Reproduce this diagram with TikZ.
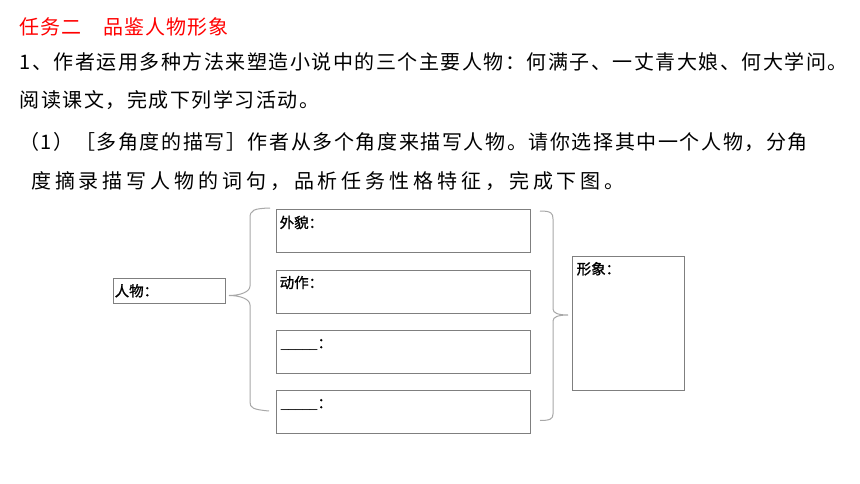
\documentclass[tikz,border=0pt]{standalone}
\usepackage{fontspec}
\setmainfont{Noto Sans CJK SC}
\newfontfamily\cjk{Noto Sans CJK SC}
\definecolor{boxgray}{HTML}{7F7F7F}
\definecolor{bracegray}{HTML}{A8A8A8}
\definecolor{titlered}{HTML}{FF0000}
\newcommand{\myblank}{\_\kern-0.9pt\_\kern-0.9pt\_\kern-0.9pt\_\kern-0.9pt\_}
\tikzset{
  bodytext/.style={anchor=base west, inner sep=0pt, font=\cjk\fontsize{20}{24}\selectfont},
  boxtext/.style={anchor=base west, inner sep=0pt, font=\cjk\fontsize{14.5}{16}\selectfont},
  box/.style={draw=boxgray, line width=0.8pt, rectangle, inner sep=0pt, anchor=north west},
  bracestyle/.style={draw=bracegray, line width=1pt}
}
\begin{document}
\begin{tikzpicture}[x=1pt,y=-1pt]
\fill[white] (0,0) rectangle (860,484);
\useasboundingbox (0,0) rectangle (860,484);
% texts
\node[bodytext, text=titlered] (title) at (19.5,34.3) {\addfontfeature{LetterSpace=5}任务二　品鉴人物形象};
\node[bodytext] (l1) at (19.5,69.3) {\addfontfeature{LetterSpace=7.5}1、作者运用多种方法来塑造小说中的三个主要人物：何满子、一丈青大娘、何大学问。};
\node[bodytext] (l2) at (19.5,107.3) {\addfontfeature{LetterSpace=7.5}阅读课文，完成下列学习活动。};
\node[bodytext] (l3) at (19,150) {\addfontfeature{LetterSpace=8}（1）［多角度的描写］作者从多个角度来描写人物。请你选择其中一个人物，分角};
\node[bodytext] (l4) at (31,188.8) {\addfontfeature{LetterSpace=19.5}度摘录描写人物的词句，品析任务性格特征，完成下图。};
% boxes
\node[box, minimum width=112pt, minimum height=25pt] (person) at (113,278) {};
\node[box, minimum width=254pt, minimum height=42.5pt] (b1) at (276,209) {};
\node[box, minimum width=254pt, minimum height=42.5pt] (b2) at (276,270) {};
\node[box, minimum width=254pt, minimum height=42.5pt] (b3) at (276,330) {};
\node[box, minimum width=254pt, minimum height=42.5pt] (b4) at (276,390) {};
\node[box, minimum width=112pt, minimum height=134pt] (image) at (572,256) {};
% box labels
\node[boxtext] (tperson) at (114.5,296.3) {\addfontfeature{FakeBold=1.2}人物：};
\node[boxtext] (t1) at (279.5,228) {\addfontfeature{FakeBold=1.2}外貌：};
\node[boxtext] (t2) at (279.5,288) {\addfontfeature{FakeBold=1.2}动作：};
\node[boxtext] (t3) at (280.5,348.3) {\myblank{\addfontfeature{FakeBold=1.2}：}};
\node[boxtext] (t4) at (280.5,408.3) {\myblank{\addfontfeature{FakeBold=1.2}：}};
\node[boxtext] (timage) at (576.5,274.3) {\addfontfeature{FakeBold=1.2}形象：};
% left brace
\draw[bracestyle] (270,208) .. controls (254,208.5) and (250,210) .. (250,218)
  -- (250,286) .. controls (250,292) and (240,295.5) .. (229,295.5)
  .. controls (240,295.5) and (250,299) .. (250,305)
  -- (250,402) .. controls (250,408) and (253,409.5) .. (269,411);
% right brace
\draw[bracestyle] (540,211) .. controls (551,211) and (553,213) .. (553,219)
  -- (553,309) .. controls (553,313) and (558,315) .. (568,315)
  .. controls (558,315) and (553,317) .. (553,321)
  -- (553,414) .. controls (553,419) and (550,420.5) .. (540,420.5);
\end{tikzpicture}
\end{document}
